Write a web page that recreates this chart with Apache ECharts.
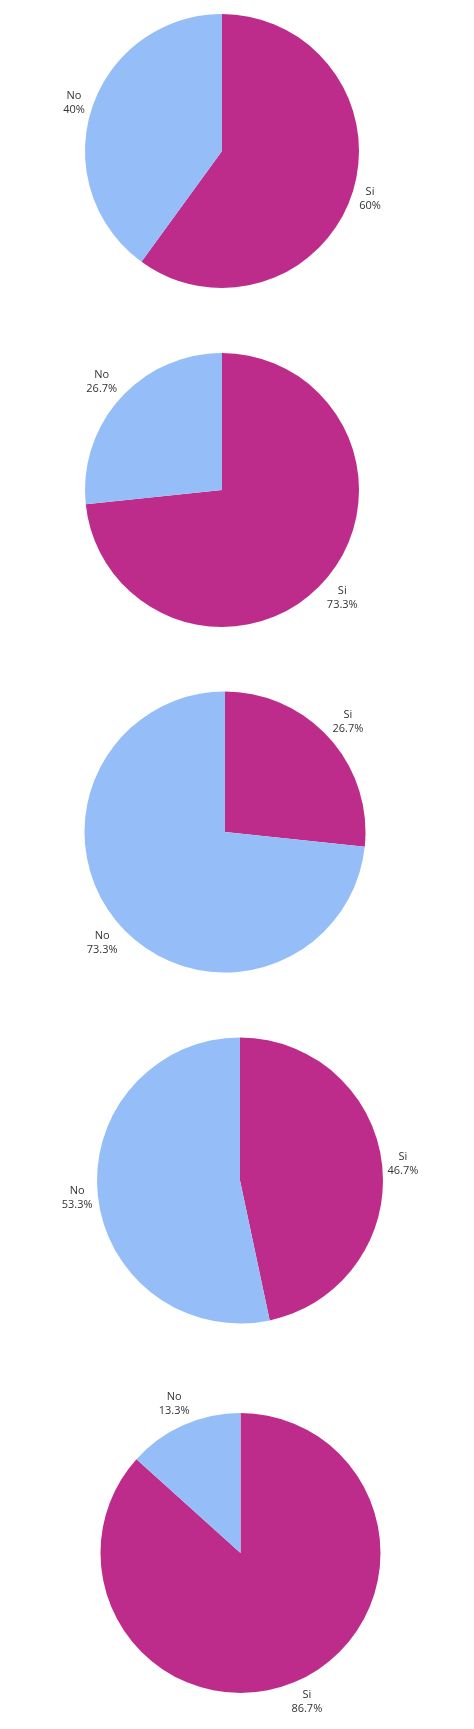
<!DOCTYPE html>
<html>
<head>
<meta charset="utf-8">
<script src="https://cdn.jsdelivr.net/npm/echarts@6/dist/echarts.min.js"></script>
<style>
html,body{margin:0;padding:0;background:#fff;}
#chart{width:474px;height:1729px;}
</style>
</head>
<body>
<div id="chart"></div>
<script>
// ---- data ----
const categories = ['Si', 'No'];
const siValues = [9, 11, 4, 7, 13];
const noValues = [6, 4, 11, 8, 2];
const colors = ['#BE2C8B', '#95BDF7'];

// ---- layout (per pie) ----
const centers = [[222, 151], [222, 490], [225, 832], [240, 1180.5], [240.5, 1553]];
const radii = [137, 137, 140.5, 143, 140];

const chart = echarts.init(document.getElementById('chart'), null, {renderer: 'canvas'});

const series = siValues.map((si, i) => ({
  type: 'pie',
  center: centers[i],
  radius: radii[i],
  startAngle: 90,
  clockwise: true,
  avoidLabelOverlap: false,
  silent: true,
  emphasis: {disabled: true},
  itemStyle: {borderWidth: 0},
  label: {
    show: true,
    position: 'outside',
    fontFamily: 'Open Sans',
    fontSize: 11,
    lineHeight: 14,
    color: '#333333',
    formatter: p => p.name + '\n' + (Math.round(p.percent * 10) / 10) + '%'
  },
  labelLine: {show: true, length: 10, length2: 0, lineStyle: {opacity: 0, width: 0}},
  labelLayout: params => {
    const pts = params.labelLinePoints;
    if (!pts || pts.length < 2) return {};
    const x1 = pts[0][0], y1 = pts[0][1];
    let dx = pts[1][0] - x1, dy = pts[1][1] - y1;
    const len = Math.sqrt(dx * dx + dy * dy) || 1;
    dx /= len; dy /= len;
    const hw = params.labelRect.width / 2;
    const hh = params.labelRect.height / 2;
    const d = 4 + hw * Math.abs(dx) + hh * Math.abs(dy);
    return {x: x1 + dx * d, y: y1 + dy * d, align: 'center', verticalAlign: 'middle'};
  },
  data: [
    {name: categories[0], value: si, itemStyle: {color: colors[0]}},
    {name: categories[1], value: noValues[i], itemStyle: {color: colors[1]}}
  ]
}));

chart.setOption({
  backgroundColor: '#ffffff',
  animation: false,
  series: series
});
</script>
</body>
</html>
